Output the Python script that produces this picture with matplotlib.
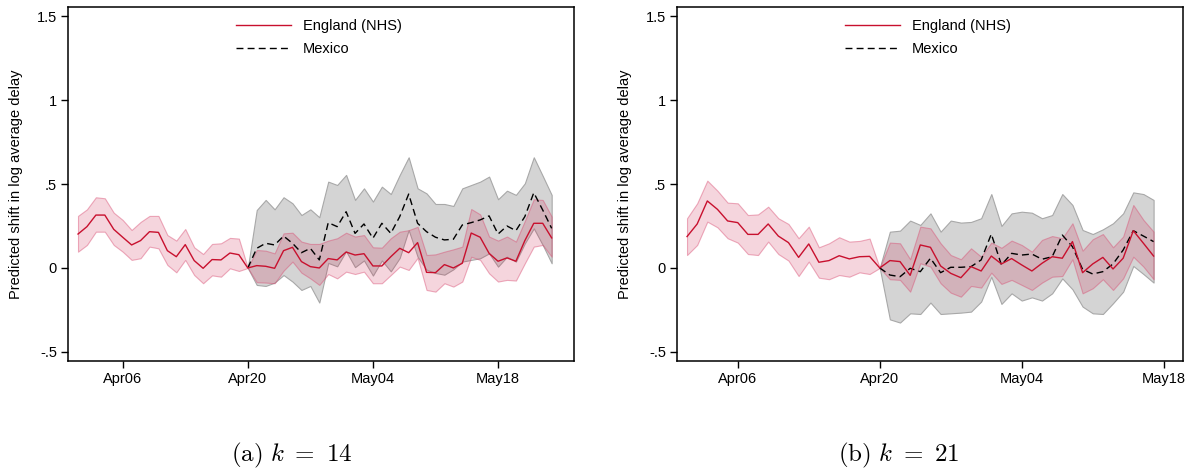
import numpy as np
import pandas as pd
import matplotlib
matplotlib.use('Agg')
import matplotlib.pyplot as plt
import matplotlib.dates as mdates

plt.rcParams['font.family'] = ['Liberation Sans', 'DejaVu Sans']
plt.rcParams['mathtext.fontset'] = 'cm'

# ---- data ----
first_day = '2020-04-01'
split_day = '2020-04-20'
tick_dates = ['2020-04-06', '2020-04-20', '2020-05-04', '2020-05-18']
ytick_vals = [-0.5, 0, 0.5, 1, 1.5]
ytick_labels = ['-.5', '0', '.5', '1', '1.5']

# panel (a) k = 14, England Apr01..May24, Mexico Apr20..May24
eng14 = [0.202, 0.246, 0.315, 0.315, 0.230, 0.183, 0.137, 0.163, 0.216, 0.212,
         0.103, 0.067, 0.139, 0.044, -0.002, 0.050, 0.048, 0.089, 0.079, 0.0,
         0.014, 0.010, -0.002, 0.103, 0.123, 0.038, 0.008, 0.0, 0.056, 0.048,
         0.095, 0.077, 0.085, 0.012, 0.012, 0.067, 0.117, 0.091, 0.151, -0.026,
         -0.028, 0.020, 0.0, 0.028, 0.208, 0.183, 0.087, 0.040, 0.060, 0.040,
         0.163, 0.266, 0.266, 0.179]
eng14_hi = [0.310, 0.349, 0.421, 0.415, 0.329, 0.286, 0.226, 0.274, 0.310, 0.310,
            0.196, 0.163, 0.232, 0.123, 0.083, 0.143, 0.147, 0.179, 0.175, 0.0,
            0.107, 0.103, 0.087, 0.206, 0.210, 0.157, 0.143, 0.143, 0.163, 0.177,
            0.210, 0.187, 0.196, 0.123, 0.121, 0.177, 0.216, 0.225, 0.245, 0.077,
            0.081, 0.097, 0.111, 0.127, 0.351, 0.319, 0.187, 0.163, 0.187, 0.157,
            0.280, 0.409, 0.405, 0.306]
eng14_lo = [0.097, 0.137, 0.216, 0.216, 0.137, 0.097, 0.048, 0.058, 0.127, 0.117,
            0.018, -0.026, 0.048, -0.042, -0.091, -0.044, -0.052, -0.002, -0.018, 0.0,
            -0.085, -0.087, -0.091, -0.016, 0.038, -0.028, -0.062, -0.101, -0.036, -0.062,
            -0.022, -0.036, -0.022, -0.091, -0.091, -0.042, 0.008, -0.012, 0.060, -0.131,
            -0.141, -0.091, -0.111, -0.081, 0.067, 0.048, -0.032, -0.081, -0.071, -0.075,
            0.028, 0.127, 0.137, 0.067]
mex14 = [0.0, 0.117, 0.147, 0.137, 0.190, 0.147, 0.091, 0.117, 0.048, 0.270,
         0.246, 0.335, 0.206, 0.262, 0.177, 0.266, 0.206, 0.306, 0.440, 0.266,
         0.216, 0.183, 0.167, 0.171, 0.256, 0.270, 0.286, 0.310, 0.202, 0.250,
         0.222, 0.306, 0.448, 0.345, 0.236]
mex14_hi = [0.0, 0.345, 0.405, 0.349, 0.421, 0.385, 0.315, 0.349, 0.302, 0.514,
            0.494, 0.554, 0.405, 0.474, 0.395, 0.484, 0.440, 0.554, 0.659, 0.474,
            0.444, 0.381, 0.381, 0.369, 0.474, 0.494, 0.514, 0.544, 0.409, 0.460,
            0.435, 0.504, 0.659, 0.548, 0.435]
mex14_lo = [0.0, -0.101, -0.107, -0.087, -0.042, -0.081, -0.131, -0.107, -0.206, 0.030,
            0.010, 0.100, 0.005, 0.045, -0.045, 0.045, -0.020, 0.060, 0.226, 0.067,
            -0.010, -0.030, -0.040, -0.008, 0.038, 0.048, 0.058, 0.087, 0.008, 0.067,
            0.038, 0.147, 0.236, 0.137, 0.028]

# panel (b) k = 21, England Apr01..May17, Mexico Apr20..May17
eng21 = [0.187, 0.262, 0.399, 0.349, 0.280, 0.270, 0.200, 0.200, 0.262, 0.190,
         0.151, 0.063, 0.143, 0.034, 0.044, 0.073, 0.054, 0.067, 0.069, 0.0,
         0.044, 0.038, -0.044, 0.137, 0.123, 0.012, -0.032, -0.058, 0.008, -0.018,
         0.071, 0.024, 0.056, 0.018, -0.018, 0.028, 0.067, 0.058, 0.157, -0.028,
         0.024, 0.063, -0.006, 0.058, 0.222, 0.147, 0.071]
eng21_hi = [0.296, 0.385, 0.520, 0.460, 0.389, 0.385, 0.315, 0.319, 0.365, 0.296,
            0.262, 0.177, 0.246, 0.123, 0.147, 0.183, 0.157, 0.161, 0.175, 0.0,
            0.151, 0.147, 0.052, 0.246, 0.236, 0.147, 0.077, 0.052, 0.117, 0.067,
            0.151, 0.120, 0.163, 0.137, 0.097, 0.167, 0.190, 0.177, 0.266, 0.103,
            0.171, 0.202, 0.123, 0.187, 0.375, 0.286, 0.216]
eng21_lo = [0.077, 0.137, 0.276, 0.242, 0.177, 0.151, 0.083, 0.077, 0.157, 0.083,
            0.044, -0.048, 0.038, -0.058, -0.067, -0.042, -0.052, -0.026, -0.036, 0.0,
            -0.067, -0.071, -0.141, 0.028, 0.008, -0.091, -0.147, -0.171, -0.107, -0.117,
            -0.028, -0.095, -0.071, -0.101, -0.131, -0.087, -0.052, -0.048, 0.052, -0.151,
            -0.121, -0.067, -0.131, -0.062, 0.067, 0.008, -0.067]
mex21 = [0.0, -0.042, -0.052, -0.002, -0.022, 0.058, -0.028, 0.004, 0.004, 0.008,
         0.048, 0.202, 0.018, 0.087, 0.077, 0.083, 0.052, 0.067, 0.196, 0.127,
         -0.008, -0.036, -0.022, 0.024, 0.107, 0.222, 0.190, 0.157]
mex21_hi = [0.0, 0.216, 0.222, 0.282, 0.256, 0.325, 0.216, 0.282, 0.270, 0.274,
            0.296, 0.440, 0.250, 0.325, 0.335, 0.329, 0.296, 0.315, 0.440, 0.375,
            0.226, 0.202, 0.230, 0.266, 0.325, 0.450, 0.440, 0.405]
mex21_lo = [0.0, -0.306, -0.325, -0.270, -0.274, -0.206, -0.274, -0.270, -0.266, -0.260,
            -0.200, -0.052, -0.214, -0.151, -0.194, -0.175, -0.194, -0.151, -0.062, -0.127,
            -0.230, -0.270, -0.274, -0.210, -0.141, 0.012, -0.036, -0.087]

RED = '#c8102e'
PINK_FILL = (0.80, 0.10, 0.27, 0.18)
PINK_EDGE = (0.85, 0.30, 0.45, 0.45)


def draw_panel(ax, eng, eng_lo, eng_hi, mex, mex_lo, mex_hi, xpad):
    d_eng = pd.date_range(first_day, periods=len(eng), freq='D')
    d_mex = pd.date_range(split_day, periods=len(mex), freq='D')

    ax.fill_between(d_mex, mex_lo, mex_hi, facecolor='#d4d4d4',
                    edgecolor='#a8a8a8', lw=0.8, zorder=1)
    ax.fill_between(d_eng, eng_lo, eng_hi, facecolor=PINK_FILL,
                    edgecolor=PINK_EDGE, lw=0.8, zorder=2)
    l1, = ax.plot(d_eng, eng, color=RED, lw=1.0, zorder=4)
    l2, = ax.plot(d_mex, mex, color='black', lw=1.0, dashes=(5, 3), zorder=3)

    x0 = mdates.date2num(pd.Timestamp(first_day))
    ax.set_xlim(x0 - xpad[0], x0 + xpad[1])
    ax.set_ylim(-0.554, 1.554)
    ax.set_xticks(mdates.date2num(pd.to_datetime(tick_dates)))
    ax.xaxis.set_major_formatter(mdates.DateFormatter('%b%d'))
    ax.set_yticks(ytick_vals)
    ax.set_yticklabels(ytick_labels)
    ax.tick_params(direction='out', length=5, width=1.0, labelsize=10.5, pad=3)
    for s in ax.spines.values():
        s.set_linewidth(1.1)
    ax.set_ylabel('Predicted shift in log average delay', fontsize=10.5)
    ax.yaxis.set_label_coords(-0.089, 0.5)
    ax.legend([l1, l2], ['England (NHS)', 'Mexico'], loc='upper left',
              bbox_to_anchor=(0.332, 0.965), frameon=False, fontsize=10.5,
              handlelength=3.8, handletextpad=0.8, labelspacing=0.62,
              borderpad=0, borderaxespad=0)


fig = plt.figure(figsize=(11.94, 4.74), dpi=100)
ax1 = fig.add_axes([68 / 1194, 1 - 361 / 474, 506 / 1194, 354 / 474])
ax2 = fig.add_axes([677 / 1194, 1 - 361 / 474, 506 / 1194, 354 / 474])

draw_panel(ax1, eng14, eng14_lo, eng14_hi, mex14, mex14_lo, mex14_hi, (1.12, 55.5))
draw_panel(ax2, eng21, eng21_lo, eng21_hi, mex21, mex21_lo, mex21_hi, (0.99, 48.9))

fig.text(292 / 1194, 1 - 455 / 474, r'$\mathrm{(a)}\ k\ =\ 14$', fontsize=18,
         ha='center', va='center')
fig.text(899 / 1194, 1 - 455 / 474, r'$\mathrm{(b)}\ k\ =\ 21$', fontsize=18,
         ha='center', va='center')

fig.savefig('out.png', dpi=100)
